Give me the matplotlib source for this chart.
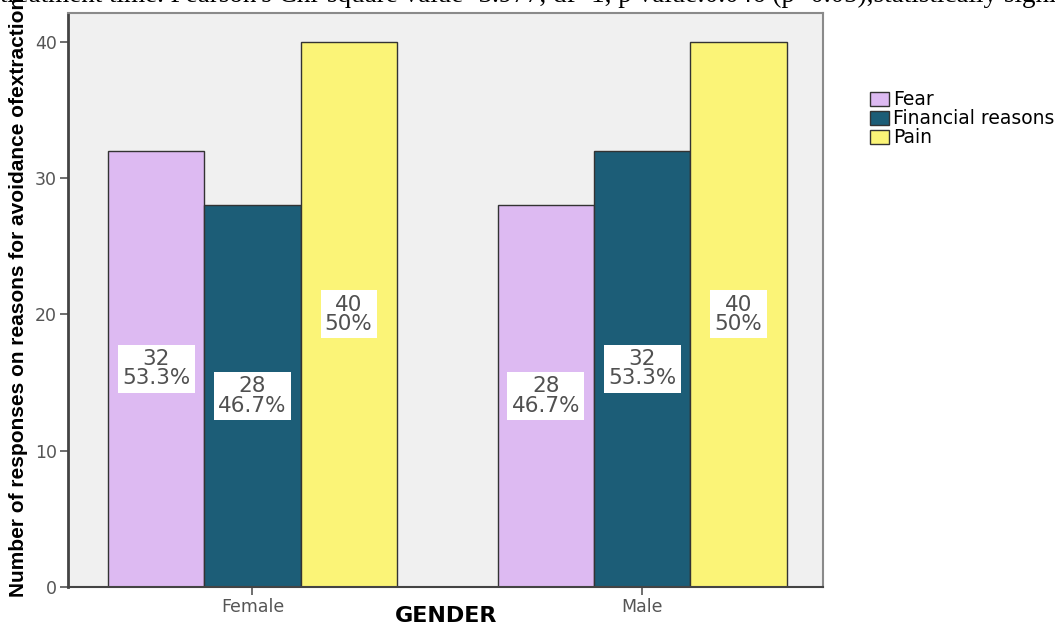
import numpy as np
import matplotlib.pyplot as plt

groups = ['Female', 'Male']
reasons = ['Fear', 'Financial reasons', 'Pain']
counts = {
    'Fear': [32, 28],
    'Financial reasons': [28, 32],
    'Pain': [40, 40],
}
percents = {
    'Fear': ['53.3%', '46.7%'],
    'Financial reasons': ['46.7%', '53.3%'],
    'Pain': ['50%', '50%'],
}
colors = ['#ddbaf2', '#1c5d77', '#fbf477']

fig = plt.figure(figsize=(10.55, 6.27), dpi=100)
ax = fig.add_axes([0.0645, 0.064, 0.716, 0.915])
ax.set_facecolor('#f0f0f0')

x = np.arange(len(groups))
w = 0.247
for i, r in enumerate(reasons):
    pos = x + (i - 1) * w
    bars = ax.bar(pos, counts[r], w, color=colors[i], edgecolor='#333333',
                  linewidth=1.0, label=r, zorder=2)
    for b, v, p in zip(bars, counts[r], percents[r]):
        ax.text(b.get_x() + b.get_width() / 2, v / 2, f'{v}\n{p}',
                ha='center', va='center', fontsize=15.5, color='#505050',
                linespacing=0.95, family='DejaVu Sans', zorder=3,
                bbox=dict(boxstyle='square,pad=0.2', fc='white', ec='none'))

ax.set_xlim(-0.473, 1.465)
ax.set_ylim(0, 42.1)
ax.set_yticks([0, 10, 20, 30, 40])
ax.set_xticks(x)
ax.set_xticklabels(groups)
ax.tick_params(axis='both', colors='#555555', labelcolor='#555555',
               labelsize=12.5, length=6, width=1.2, pad=2)
for lab in ax.get_xticklabels() + ax.get_yticklabels():
    lab.set_family('DejaVu Sans')

for s in ['top', 'right', 'bottom']:
    ax.spines[s].set_color('#8a8a8a')
    ax.spines[s].set_linewidth(1.5)
ax.spines['left'].set_color('#444444')
ax.spines['left'].set_linewidth(2)
ax.spines['bottom'].set_color('#444444')

ax.set_xlabel('GENDER', fontsize=16, fontweight='bold', family='DejaVu Sans')
ax.xaxis.set_label_coords(0.5, -0.05)
ax.xaxis.label.set_va('center')
ax.set_ylabel('Number of responses on reasons for avoidance ofextraction',
              fontsize=15, fontweight='bold',
              family=['Liberation Sans Narrow', 'Liberation Sans'])
ax.yaxis.set_label_coords(-0.053, 0.505)

fig.legend(loc='upper left', bbox_to_anchor=(0.818, 0.868), frameon=False,
           prop={'family': 'DejaVu Sans', 'size': 13.5},
           handlelength=1.0, handleheight=0.8, handletextpad=0.2,
           labelspacing=0.0, borderaxespad=0)

fig.text(0.0, 0.997, "treatment time. Pearson's Chi-square value=3.977, df=1, "
         "p value:0.046 (p<0.05),statistically significant",
         ha='left', va='baseline', fontsize=19.5, family='Liberation Serif')

fig.savefig('out.png', dpi=100)
